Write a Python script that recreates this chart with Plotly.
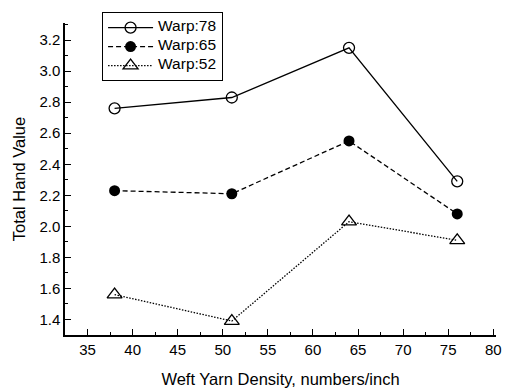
import plotly.graph_objects as go

# Weft yarn densities (numbers/inch) and total hand values per warp density
weft_density = [38, 51, 64, 76]
warp78 = [2.76, 2.83, 3.15, 2.29]
warp65 = [2.23, 2.21, 2.55, 2.08]
warp52 = [1.56, 1.39, 2.03, 1.91]

series_names = ["Warp:78", "Warp:65", "Warp:52"]

FONT = "Liberation Sans, Arial, sans-serif"


def legend_label(text):
    # legend rows are sized from the small legend font; the label itself is drawn larger
    return f'<span style="font-size:15.5px">{text}</span>'


fig = go.Figure()

fig.add_trace(go.Scatter(
    x=weft_density, y=warp78, name=legend_label(series_names[0]), mode="lines+markers",
    line=dict(color="black", width=1.3, dash="solid"),
    marker=dict(symbol="circle-open", size=11, color="black", line=dict(width=1.3)),
))
fig.add_trace(go.Scatter(
    x=weft_density, y=warp65, name=legend_label(series_names[1]), mode="lines+markers",
    line=dict(color="black", width=1.3, dash="5px,3px"),
    marker=dict(symbol="circle", size=11, color="black"),
))
fig.add_trace(go.Scatter(
    x=weft_density, y=warp52, name=legend_label(series_names[2]), mode="lines+markers",
    line=dict(color="black", width=1.3, dash="1.5px,1.5px"),
    marker=dict(symbol="triangle-up-open", size=13, color="black", line=dict(width=1.3)),
))

fig.update_layout(
    width=510, height=390,
    margin=dict(l=65, r=14, t=17, b=55),
    paper_bgcolor="white", plot_bgcolor="white",
    font=dict(family=FONT, size=15, color="black"),
    showlegend=True,
    legend=dict(
        x=0.086, y=1.035, xanchor="left", yanchor="top",
        bordercolor="black", borderwidth=1, bgcolor="white",
        font=dict(family=FONT, size=10, color="black"),
        tracegroupgap=0, itemsizing="trace", itemwidth=45,
    ),
    xaxis=dict(
        range=[32.5, 80.3], tick0=35, dtick=5,
        showgrid=False, zeroline=False, automargin=False,
        showline=True, linecolor="black", linewidth=1.5,
        ticks="inside", ticklen=6, tickwidth=1, tickcolor="black",
        minor=dict(ticks="inside", dtick=2.5, tick0=35, ticklen=3, tickcolor="black"),
        tickfont=dict(family=FONT, size=15),
        title=dict(text="Weft Yarn Density, numbers/inch",
                   font=dict(family=FONT, size=16.5), standoff=17),
    ),
    yaxis=dict(
        range=[1.3, 3.31], tick0=1.4, dtick=0.2, tickformat=".1f",
        showgrid=False, zeroline=False, automargin=False,
        showline=True, linecolor="black", linewidth=1.5,
        ticks="inside", ticklen=6, tickwidth=1, tickcolor="black",
        minor=dict(ticks="inside", dtick=0.1, tick0=1.3, ticklen=3, tickcolor="black"),
        tickfont=dict(family=FONT, size=15),
        title=dict(text="Total Hand Value",
                   font=dict(family=FONT, size=16.5), standoff=10),
    ),
)

fig.write_html("out.html")
